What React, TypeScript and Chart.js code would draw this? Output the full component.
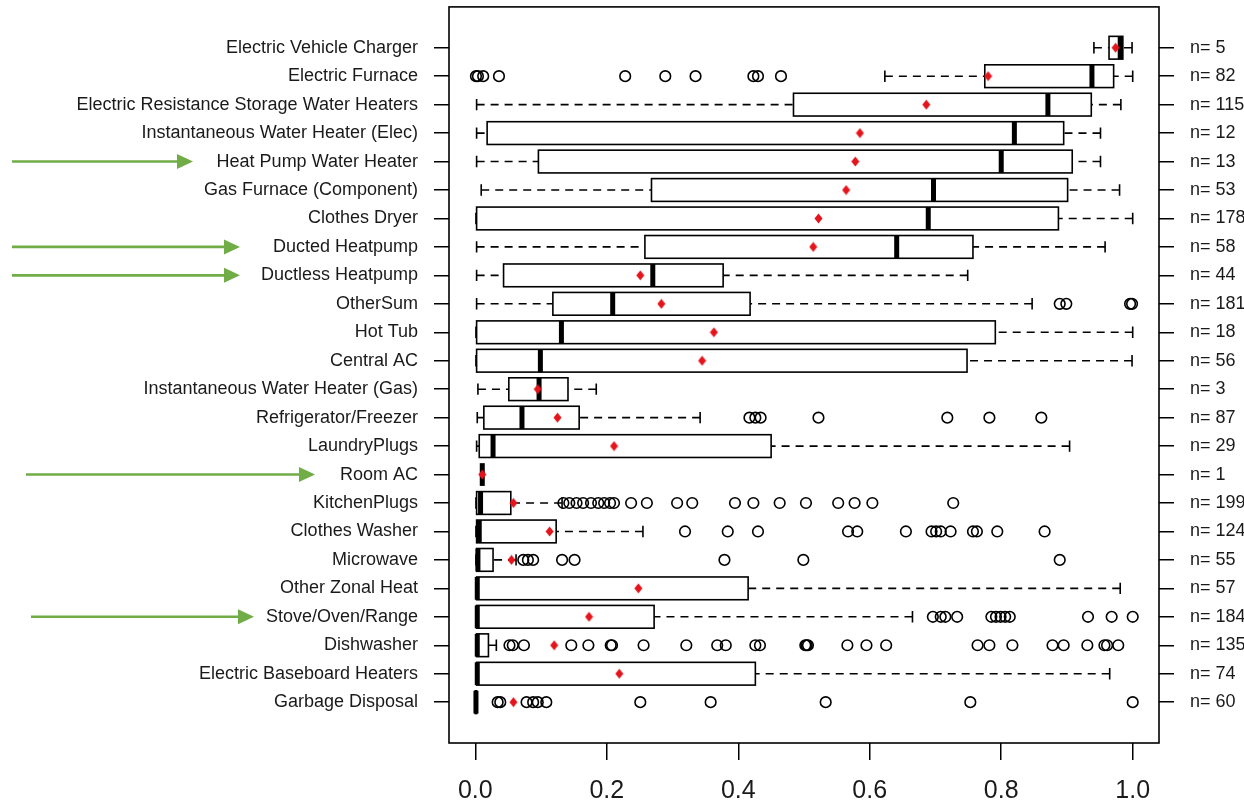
import React, { useEffect, useRef } from "react";
import { Chart, registerables } from "chart.js";

Chart.register(...registerables);

// ---------------- data ----------------
const categories = [
  "Electric Vehicle Charger",
  "Electric Furnace",
  "Electric Resistance Storage Water Heaters",
  "Instantaneous Water Heater (Elec)",
  "Heat Pump Water Heater",
  "Gas Furnace (Component)",
  "Clothes Dryer",
  "Ducted Heatpump",
  "Ductless Heatpump",
  "OtherSum",
  "Hot Tub",
  "Central AC",
  "Instantaneous Water Heater (Gas)",
  "Refrigerator/Freezer",
  "LaundryPlugs",
  "Room AC",
  "KitchenPlugs",
  "Clothes Washer",
  "Microwave",
  "Other Zonal Heat",
  "Stove/Oven/Range",
  "Dishwasher",
  "Electric Baseboard Heaters",
  "Garbage Disposal",
];

const counts = [5, 82, 115, 12, 13, 53, 178, 58, 44, 181, 18, 56, 3, 87, 29, 1, 199, 124, 55, 57, 184, 135, 74, 60];

const whiskerLow = [0.941, 0.623, 0.002, 0.002, 0.002, 0.009, 0.001, 0.002, 0.002, 0.002, 0.001, 0.001, 0.004, 0.003, 0.002, 0.0106, 0.001, 0.001, 0.001, 0.001, 0.001, 0.001, 0.001, 0.0];
const q1 = [0.964, 0.775, 0.484, 0.018, 0.096, 0.268, 0.002, 0.258, 0.043, 0.118, 0.002, 0.002, 0.051, 0.013, 0.006, 0.0106, 0.002, 0.002, 0.002, 0.002, 0.002, 0.002, 0.002, 0.0];
const medians = [0.981, 0.938, 0.871, 0.82, 0.8, 0.697, 0.689, 0.641, 0.27, 0.209, 0.131, 0.099, 0.097, 0.071, 0.027, 0.0106, 0.008, 0.006, 0.004, 0.003, 0.003, 0.003, 0.003, 0.001];
const q3 = [0.985, 0.971, 0.937, 0.895, 0.908, 0.901, 0.887, 0.757, 0.377, 0.418, 0.791, 0.748, 0.141, 0.158, 0.45, 0.0106, 0.054, 0.123, 0.027, 0.415, 0.272, 0.02, 0.426, 0.002];
const whiskerHigh = [0.999, 1.0, 0.982, 0.951, 0.951, 0.98, 1.0, 0.958, 0.749, 0.847, 1.0, 0.999, 0.184, 0.342, 0.904, 0.0106, 0.132, 0.255, 0.062, 0.981, 0.665, 0.032, 0.965, 0.003];
const means = [0.974, 0.78, 0.686, 0.585, 0.578, 0.564, 0.522, 0.514, 0.251, 0.283, 0.363, 0.345, 0.095, 0.125, 0.211, 0.0106, 0.058, 0.113, 0.055, 0.248, 0.173, 0.12, 0.219, 0.058];

const outliers: number[][] = [
  [],
  [0.001, 0.004, 0.012, 0.036, 0.228, 0.289, 0.335, 0.423, 0.43, 0.465],
  [],
  [],
  [],
  [],
  [],
  [],
  [],
  [0.889, 0.899, 0.996, 0.999],
  [],
  [],
  [],
  [0.417, 0.426, 0.434, 0.522, 0.718, 0.782, 0.861],
  [],
  [],
  [0.134, 0.143, 0.154, 0.164, 0.176, 0.187, 0.196, 0.205, 0.211, 0.237, 0.261, 0.307, 0.33, 0.395, 0.423, 0.463, 0.503, 0.552, 0.577, 0.604, 0.727],
  [0.319, 0.384, 0.43, 0.567, 0.581, 0.655, 0.694, 0.701, 0.708, 0.723, 0.757, 0.763, 0.794, 0.866],
  [0.073, 0.08, 0.088, 0.132, 0.151, 0.379, 0.499, 0.889],
  [],
  [0.696, 0.708, 0.715, 0.733, 0.785, 0.792, 0.799, 0.806, 0.813, 0.932, 0.968, 1.0],
  [0.052, 0.057, 0.074, 0.146, 0.172, 0.206, 0.208, 0.256, 0.321, 0.368, 0.381, 0.426, 0.433, 0.502, 0.504, 0.506, 0.566, 0.595, 0.625, 0.764, 0.782, 0.817, 0.878, 0.895, 0.931, 0.957, 0.961, 0.978],
  [],
  [0.034, 0.038, 0.078, 0.088, 0.095, 0.108, 0.251, 0.358, 0.533, 0.753, 1.0],
];

const xTicks = [0, 0.2, 0.4, 0.6, 0.8, 1.0];

const highlighted = ["Heat Pump Water Heater", "Ducted Heatpump", "Ductless Heatpump", "Room AC", "Stove/Oven/Range"];

// ---------------- layout / style ----------------
const W = 1244;
const H = 804;
const AREA = { left: 449, right: 1159, top: 4, bottom: 743 };
const FONT = "'Liberation Sans', Arial, Helvetica, sans-serif";
const TEXT = "#1a1a1a";
const RED = "#e3141b";
const GREEN = "#70ad47";
const arrowExtent: Record<string, [number, number]> = {
  "Heat Pump Water Heater": [12, 193],
  "Ducted Heatpump": [12, 240],
  "Ductless Heatpump": [12, 240],
  "Room AC": [26, 315],
  "Stove/Oven/Range": [31, 254],
};

const rowTicks = (s: any) => {
  s.ticks = categories.map((_, i) => ({ value: i }));
};

const zeroPad = (s: any) => {
  s.paddingTop = 0;
  s.paddingBottom = 0;
  s.paddingLeft = 0;
  s.paddingRight = 0;
};

const boxPlugin = {
  id: "boxes",
  beforeDatasetsDraw(chart: any) {
    const { ctx } = chart;
    const xs = chart.scales.x;
    const ys = chart.scales.y;
    const px = (v: number) => xs.getPixelForValue(v);
    ctx.save();
    categories.forEach((_, i) => {
      const y = ys.getPixelForValue(i);
      const h = Math.abs(ys.getPixelForValue(i + 0.4) - ys.getPixelForValue(i - 0.4));
      const half = h / 2;
      const lo = px(whiskerLow[i]);
      const a = px(q1[i]);
      const m = px(medians[i]);
      const b = px(q3[i]);
      const hi = px(whiskerHigh[i]);
      ctx.strokeStyle = "#000";
      ctx.lineWidth = 1.6;
      ctx.lineCap = "butt";
      ctx.setLineDash([8, 6]);
      ctx.beginPath();
      ctx.moveTo(lo, y);
      ctx.lineTo(a, y);
      ctx.moveTo(hi, y);
      ctx.lineTo(b, y);
      ctx.stroke();
      ctx.setLineDash([]);
      const s = half * 0.5;
      ctx.beginPath();
      ctx.moveTo(lo, y - s);
      ctx.lineTo(lo, y + s);
      ctx.moveTo(hi, y - s);
      ctx.lineTo(hi, y + s);
      ctx.stroke();
      if (b - a > 0.5) {
        ctx.fillStyle = "#fff";
        ctx.fillRect(a, y - half, b - a, h);
        ctx.strokeRect(a, y - half, b - a, h);
      }
      ctx.lineWidth = 5;
      ctx.beginPath();
      ctx.moveTo(m, y - half);
      ctx.lineTo(m, y + half);
      ctx.stroke();
    });
    ctx.restore();
  },
  afterDraw(chart: any) {
    const { ctx, chartArea: ca } = chart;
    const ys = chart.scales.y;
    ctx.save();
    ctx.strokeStyle = "#000";
    ctx.lineWidth = 1.6;
    ctx.strokeRect(ca.left, ca.top, ca.right - ca.left, ca.bottom - ca.top);
    highlighted.forEach((name) => {
      const i = categories.indexOf(name);
      const ext = arrowExtent[name];
      if (i < 0 || !ext) return;
      const y = ys.getPixelForValue(i);
      const [x0, x1] = ext;
      const head = 16;
      ctx.strokeStyle = GREEN;
      ctx.fillStyle = GREEN;
      ctx.lineWidth = 2.6;
      ctx.beginPath();
      ctx.moveTo(x0, y);
      ctx.lineTo(x1 - head + 1, y);
      ctx.stroke();
      ctx.beginPath();
      ctx.moveTo(x1, y);
      ctx.lineTo(x1 - head, y - 7.5);
      ctx.lineTo(x1 - head, y + 7.5);
      ctx.closePath();
      ctx.fill();
    });
    ctx.restore();
  },
};

function makeDiamond(): HTMLCanvasElement {
  const c = document.createElement("canvas");
  c.width = 9;
  c.height = 11;
  const g = c.getContext("2d")!;
  g.fillStyle = RED;
  g.beginPath();
  g.moveTo(4.5, 0.5);
  g.lineTo(8.5, 5.5);
  g.lineTo(4.5, 10.5);
  g.lineTo(0.5, 5.5);
  g.closePath();
  g.fill();
  return c;
}

export default function App() {
  const ref = useRef<HTMLCanvasElement | null>(null);

  useEffect(() => {
    if (!ref.current) return;
    const outlierPoints: { x: number; y: number }[] = [];
    outliers.forEach((arr, i) => arr.forEach((v) => outlierPoints.push({ x: v, y: i })));
    const meanPoints = means.map((v, i) => ({ x: v, y: i }));
    const diamond = makeDiamond();

    const yCommon = {
      type: "linear" as const,
      min: -1.435,
      max: 24.435,
      reverse: true,
      afterBuildTicks: rowTicks,
      grid: { drawOnChartArea: false, drawTicks: true, tickLength: 15, color: "#000", lineWidth: 1.5 },
      border: { display: false },
    };

    const chart = new Chart(ref.current, {
      type: "scatter",
      data: {
        datasets: [
          {
            label: "outliers",
            data: outlierPoints,
            pointStyle: "circle",
            pointRadius: 5.3,
            pointBorderWidth: 1.6,
            pointBorderColor: "#000",
            pointBackgroundColor: "rgba(0,0,0,0)",
          },
          {
            label: "mean",
            data: meanPoints,
            pointStyle: diamond as any,
            pointRadius: 5,
          },
        ],
      },
      plugins: [boxPlugin],
      options: {
        responsive: false,
        animation: false,
        events: [],
        layout: { padding: { top: AREA.top, left: 0, right: 0, bottom: 0 } },
        plugins: { legend: { display: false }, tooltip: { enabled: false } },
        scales: {
          x: {
            type: "linear",
            position: "bottom",
            min: -0.04,
            max: 1.04,
            afterBuildTicks: (s: any) => {
              s.ticks = xTicks.map((v) => ({ value: v }));
            },
            ticks: {
              callback: (v: any) => Number(v).toFixed(1),
              font: { family: FONT, size: 25 },
              color: TEXT,
              padding: 16,
              maxRotation: 0,
              autoSkip: false,
            },
            grid: { drawOnChartArea: false, drawTicks: true, tickLength: 17, color: "#000", lineWidth: 1.5 },
            border: { display: false },
            afterFit: (s: any) => {
              s.height = H - AREA.bottom;
              zeroPad(s);
            },
          },
          y: {
            ...yCommon,
            position: "left",
            ticks: {
              callback: (v: any) => categories[Number(v)] ?? "",
              font: { family: FONT, size: 18 },
              color: TEXT,
              padding: 16,
              autoSkip: false,
            },
            afterFit: (s: any) => {
              s.width = AREA.left;
              zeroPad(s);
            },
          },
          y2: {
            ...yCommon,
            position: "right",
            ticks: {
              callback: (v: any) => `n= ${counts[Number(v)]}`,
              font: { family: FONT, size: 18 },
              color: TEXT,
              padding: 16,
              autoSkip: false,
            },
            afterFit: (s: any) => {
              s.width = W - AREA.right;
              zeroPad(s);
            },
          },
        },
      } as any,
    });
    return () => chart.destroy();
  }, []);

  return (
    <div style={{ position: "absolute", left: 0, top: 0, width: W, height: H, background: "#fff" }}>
      <canvas ref={ref} width={W} height={H} />
    </div>
  );
}
